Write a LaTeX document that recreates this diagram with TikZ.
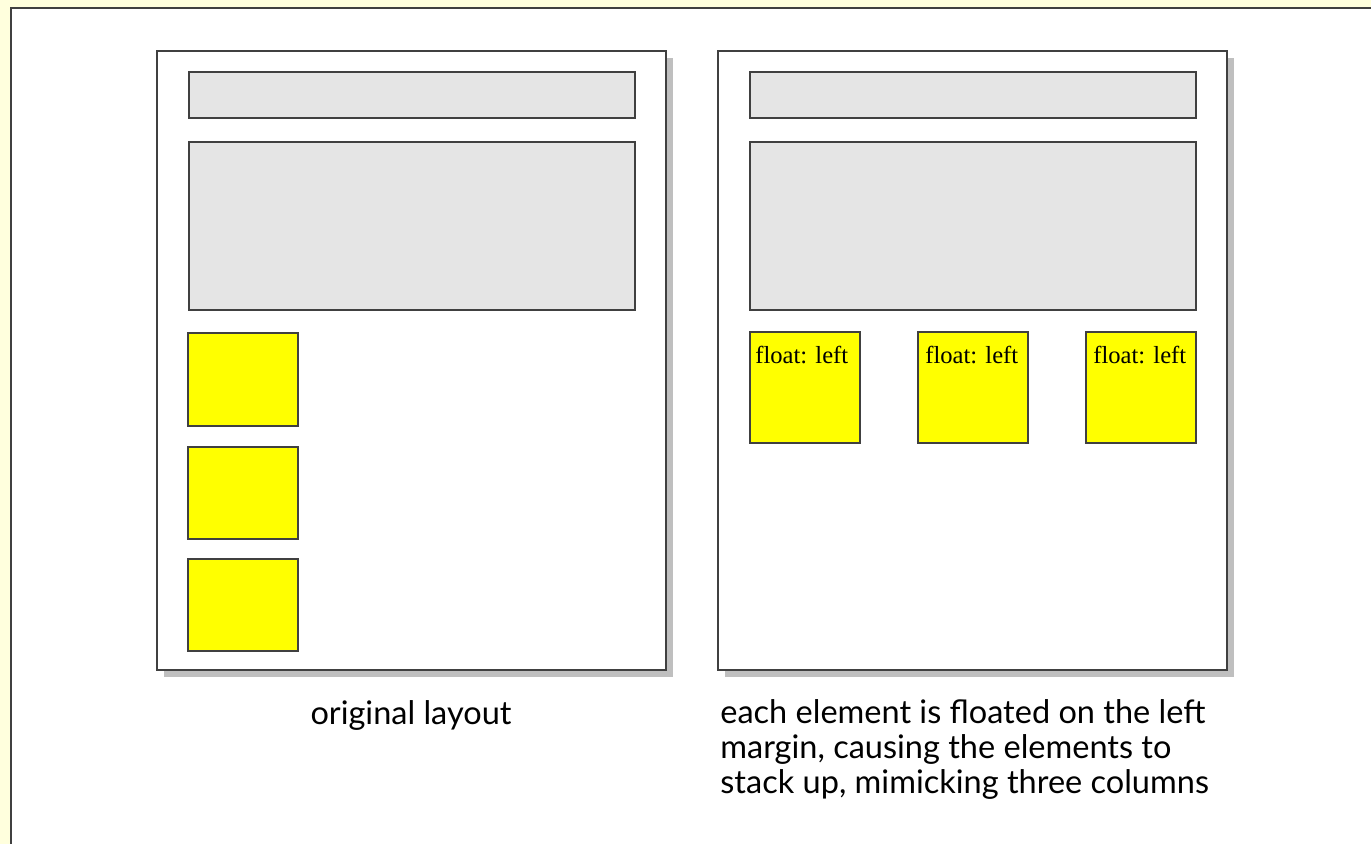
\documentclass[tikz,border=0pt]{standalone}
\usepackage{fontspec}
\usepackage{tikz}
\usetikzlibrary{shadows}
\setmainfont{Liberation Serif}
\newfontfamily\capfont{Lato}
\definecolor{paper}{RGB}{255,255,221}
\definecolor{block}{RGB}{229,229,229}
\definecolor{floaty}{RGB}{255,255,0}

\begin{document}
\begin{tikzpicture}[x=0.02cm,y=-0.02cm]
	\tikzstyle{page}=[draw=black!75,line width=1pt,fill=white,inner sep=0pt,outer sep=0pt,anchor=north west,
		minimum width=10.18cm,minimum height=12.38cm,
		drop shadow={shadow xshift=0.14cm,shadow yshift=-0.14cm,fill=black!25,opacity=1}]
	\tikzstyle{pane}=[draw=black!75,line width=0.9pt,fill=block,inner sep=0pt,anchor=north west,minimum width=8.92cm]
	\tikzstyle{box}=[draw=black!75,line width=0.9pt,fill=floaty,inner sep=0pt,anchor=north west,minimum width=2.2cm]
	\tikzstyle{caption}=[font=\capfont\fontsize{18.5}{19.8}\selectfont,align=left,inner sep=0pt]

	% frame of the whole sheet
	\useasboundingbox[fill=paper] (0,0) rectangle (1371,844);
	\draw[black!75,line width=1pt,fill=white] (11,8) rectangle (1400,880);

	% left page: original layout
	\node[page](left) at (157,51){};
	\node[pane,minimum height=0.92cm](lhead) at (188,71){};
	\node[pane,minimum height=3.36cm](lmain) at (188,141){};
	\node[box,minimum height=1.86cm](lbox1) at (187,332){};
	\node[box,minimum height=1.84cm](lbox2) at (187,446){};
	\node[box,minimum height=1.84cm](lbox3) at (187,558){};

	% right page: floated boxes
	\node[page](right) at (718,51){};
	\node[pane,minimum height=0.92cm](rhead) at (749,71){};
	\node[pane,minimum height=3.36cm](rmain) at (749,141){};
	\foreach \x/\t/\n in {749/755/1,917/925/2,1085/1093/3}{
		\node[box,minimum height=2.22cm](rbox\n) at (\x,331){};
		\node[anchor=base west,inner sep=0pt,font=\fontsize{14}{16}\selectfont](rlabel\n) at (\t,363){float: left};
	}

	% captions
	\node[caption,anchor=base](lcap) at (411,724){original layout};
	\node[caption,anchor=base west](rcap) at (720,793){each element is floated on the left\\margin, causing the elements to\\stack up, mimicking three columns};
\end{tikzpicture}
\end{document}
